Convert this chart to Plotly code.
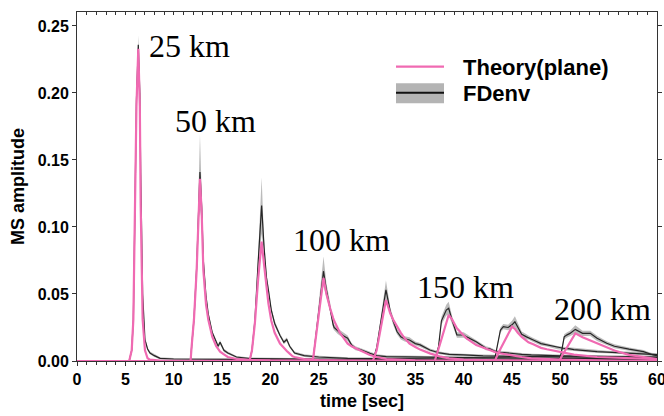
import plotly.graph_objects as go

# ---------------- data ----------------
t25  = [0, 5.4, 5.66, 5.83, 6.0, 6.15, 6.34, 6.5, 6.59, 6.79, 7.03, 7.3, 7.55, 8.0, 8.6, 10, 15, 20, 30, 45, 60]
th25 = [0, 0, 0.008, 0.031, 0.116, 0.19, 0.233, 0.19, 0.116, 0.031, 0.008, 0.002, 0.001, 0.0005, 0.0003, 0.0002, 0.0001, 0, 0, 0, 0]
fd25 = [0, 0, 0.008, 0.031, 0.116, 0.195, 0.236, 0.2, 0.14, 0.05, 0.016, 0.009, 0.006, 0.004, 0.002, 0.0015, 0.0012, 0.001, 0.001, 0.0008, 0.0006]
sd25 = [0, 0, 0.001, 0.002, 0.004, 0.006, 0.007, 0.005, 0.004, 0.002, 0.0015, 0.001, 0.001, 0.001, 0.0008, 0.0008, 0.0008, 0.0008, 0.0008, 0.0008, 0.0008]

t50  = [0, 11.75, 11.86, 12.1, 12.38, 12.55, 12.72, 12.9, 13.07, 13.35, 13.58, 14.0, 14.4, 14.6, 14.8, 15.2, 15.6, 16.5, 17.9, 20, 25, 30, 40, 50, 60]
th50 = [0, 0, 0.011, 0.031, 0.068, 0.112, 0.136, 0.11, 0.068, 0.042, 0.031, 0.018, 0.011, 0.009, 0.007, 0.005, 0.003, 0.0015, 0.0008, 0.0004, 0.0002, 0.0001, 0, 0, 0]
fd50 = [0, 0, 0.011, 0.031, 0.07, 0.115, 0.141, 0.115, 0.075, 0.048, 0.035, 0.021, 0.014, 0.011, 0.014, 0.008, 0.006, 0.003, 0.0018, 0.0015, 0.0012, 0.001, 0.0009, 0.0007, 0.0006]
sd50 = [0, 0, 0.001, 0.002, 0.005, 0.012, 0.028, 0.01, 0.005, 0.003, 0.002, 0.0015, 0.0015, 0.0015, 0.0015, 0.0012, 0.001, 0.0008, 0.0008, 0.0008, 0.0008, 0.0008, 0.0008, 0.0008, 0.0008]

t75  = [0, 17.85, 18.1, 18.4, 18.75, 19.1, 19.35, 19.6, 19.8, 20.1, 20.45, 21.0, 21.4, 21.7, 22.0, 22.3, 22.5, 23.5, 25, 28, 35, 45, 60]
th75 = [0, 0, 0.008, 0.028, 0.062, 0.089, 0.072, 0.053, 0.043, 0.03, 0.021, 0.013, 0.0095, 0.0075, 0.0055, 0.0035, 0.003, 0.0015, 0.0007, 0.0002, 0, 0, 0]
fd75 = [0, 0, 0.008, 0.03, 0.075, 0.116, 0.085, 0.062, 0.053, 0.038, 0.028, 0.019, 0.014, 0.016, 0.011, 0.008, 0.006, 0.004, 0.003, 0.002, 0.0015, 0.0012, 0.001]
sd75 = [0, 0, 0.001, 0.002, 0.006, 0.021, 0.006, 0.004, 0.003, 0.002, 0.002, 0.0015, 0.0015, 0.0015, 0.0012, 0.001, 0.001, 0.001, 0.001, 0.0008, 0.0008, 0.0008, 0.0008]

t100  = [0, 24.3, 24.45, 24.9, 25.2, 25.5, 25.8, 26.0, 26.2, 26.5, 26.6, 27.0, 27.2, 27.5, 28.0, 28.4, 28.8, 29.3, 30.3, 31.0, 32, 35, 40, 50, 60]
th100 = [0, 0, 0.003, 0.03, 0.048, 0.062, 0.05, 0.044, 0.039, 0.032, 0.03, 0.024, 0.021, 0.018, 0.013, 0.011, 0.0095, 0.008, 0.0045, 0.003, 0.0015, 0.0005, 0.0002, 0, 0]
fd100 = [0, 0, 0.003, 0.031, 0.05, 0.067, 0.053, 0.045, 0.04, 0.027, 0.025, 0.022, 0.021, 0.019, 0.017, 0.012, 0.0095, 0.0085, 0.0057, 0.004, 0.0032, 0.0028, 0.0025, 0.002, 0.0018]
sd100 = [0, 0, 0.001, 0.003, 0.005, 0.011, 0.005, 0.004, 0.003, 0.003, 0.002, 0.002, 0.002, 0.002, 0.002, 0.0015, 0.0015, 0.0012, 0.001, 0.001, 0.001, 0.001, 0.0008, 0.0008, 0.0008]

t125  = [0, 30.6, 31.0, 31.3, 31.5, 31.96, 32.3, 32.4, 32.7, 33.1, 33.5, 33.9, 34.4, 35.0, 35.5, 36.5, 37.5, 38.5, 40, 42, 45, 50, 60]
th125 = [0, 0, 0.008, 0.02, 0.029, 0.0455, 0.038, 0.0356, 0.031, 0.0256, 0.021, 0.0169, 0.013, 0.0105, 0.0085, 0.0057, 0.0035, 0.002, 0.001, 0.0006, 0.0003, 0.0001, 0]
fd125 = [0, 0, 0.01, 0.024, 0.033, 0.053, 0.041, 0.037, 0.03, 0.022, 0.018, 0.0165, 0.0157, 0.013, 0.012, 0.0082, 0.006, 0.005, 0.0045, 0.0038, 0.0034, 0.003, 0.0025]
sd125 = [0, 0, 0.001, 0.002, 0.003, 0.007, 0.004, 0.003, 0.003, 0.002, 0.002, 0.002, 0.002, 0.0015, 0.0015, 0.0012, 0.001, 0.001, 0.001, 0.001, 0.001, 0.001, 0.001]

t150  = [0, 37.0, 37.4, 37.7, 38.2, 38.45, 38.8, 39.3, 40.0, 40.3, 41.3, 42.3, 42.7, 43.3, 43.8, 45, 46, 47, 50, 55, 60]
th150 = [0, 0, 0.009, 0.016, 0.028, 0.0343, 0.031, 0.0244, 0.019, 0.0169, 0.0119, 0.009, 0.0082, 0.0065, 0.0057, 0.004, 0.003, 0.002, 0.001, 0.0003, 0]
fd150 = [0, 0.001, 0.0107, 0.03, 0.038, 0.0393, 0.0306, 0.0194, 0.0194, 0.018, 0.0144, 0.0095, 0.009, 0.007, 0.0065, 0.0055, 0.005, 0.0045, 0.0038, 0.0033, 0.003]
sd150 = [0, 0, 0.001, 0.003, 0.004, 0.005, 0.003, 0.002, 0.002, 0.002, 0.0015, 0.0015, 0.0012, 0.0012, 0.0012, 0.001, 0.001, 0.001, 0.001, 0.001, 0.001]

t175  = [0, 43.2, 43.8, 44.1, 44.6, 45.0, 45.3, 45.6, 46.0, 46.5, 46.7, 47.2, 48.0, 48.6, 49.7, 50.3, 51.0, 51.4, 53.8, 54.8, 58.2, 60]
th175 = [0, 0, 0.009, 0.013, 0.02, 0.0256, 0.024, 0.021, 0.018, 0.0152, 0.014, 0.0125, 0.0098, 0.0088, 0.007, 0.006, 0.0052, 0.0047, 0.003, 0.0027, 0.0017, 0.0014]
fd175 = [0, 0.001, 0.023, 0.0256, 0.025, 0.027, 0.0293, 0.025, 0.02, 0.018, 0.0175, 0.0157, 0.013, 0.012, 0.01, 0.0095, 0.009, 0.0085, 0.007, 0.0067, 0.0057, 0.0048]
sd175 = [0, 0, 0.002, 0.002, 0.002, 0.003, 0.004, 0.003, 0.002, 0.002, 0.0015, 0.0015, 0.0015, 0.0012, 0.0012, 0.0012, 0.0012, 0.0012, 0.001, 0.001, 0.001, 0.001]

t200  = [0, 49.9, 50.1, 50.4, 50.7, 51.0, 51.55, 52.3, 53.1, 53.8, 54.8, 55.6, 57.1, 58.6, 59.6, 60]
th200 = [0, 0, 0.003, 0.0065, 0.01, 0.0135, 0.0206, 0.0178, 0.0155, 0.013, 0.0105, 0.0078, 0.0046, 0.0028, 0.002, 0.0015]
fd200 = [0, 0.001, 0.006, 0.018, 0.0195, 0.0206, 0.0236, 0.0206, 0.0206, 0.0169, 0.0132, 0.011, 0.0088, 0.007, 0.0045, 0.004]
sd200 = [0, 0, 0.001, 0.002, 0.002, 0.002, 0.003, 0.002, 0.002, 0.002, 0.0015, 0.0015, 0.0012, 0.0012, 0.001, 0.001]

label_text = ["25 km", "50 km", "100 km", "150 km", "200 km"]
label_x = [11.64, 14.28, 27.31, 40.24, 54.41]
label_y = [0.235, 0.179, 0.0903, 0.0549, 0.0388]

x_ticks = [0, 5, 10, 15, 20, 25, 30, 35, 40, 45, 50, 55, 60]
y_ticks = [0.00, 0.05, 0.10, 0.15, 0.20, 0.25]

series = [
    (t25, th25, fd25, sd25), (t50, th50, fd50, sd50), (t75, th75, fd75, sd75),
    (t100, th100, fd100, sd100), (t125, th125, fd125, sd125), (t150, th150, fd150, sd150),
    (t175, th175, fd175, sd175), (t200, th200, fd200, sd200),
]

# ---------------- style ----------------
PINK = "#f06ab2"
BLACK = "#262626"
BAND = "rgba(150,150,150,0.65)"
W, H = 664, 416
L, R, T, B = 77, 7, 12, 55

fig = go.Figure()

for t, th, fd, sd in series:
    lo = [max(f - s, 0) for f, s in zip(fd, sd)]
    hi = [f + s for f, s in zip(fd, sd)]
    fig.add_trace(go.Scatter(x=t, y=lo, mode="lines", line=dict(width=0), showlegend=False, hoverinfo="skip"))
    fig.add_trace(go.Scatter(x=t, y=hi, mode="lines", line=dict(width=0), fill="tonexty",
                             fillcolor=BAND, showlegend=False, hoverinfo="skip"))
for t, th, fd, sd in series:
    fig.add_trace(go.Scatter(x=t, y=fd, mode="lines", line=dict(color=BLACK, width=1.2), showlegend=False))
for t, th, fd, sd in series:
    fig.add_trace(go.Scatter(x=t, y=th, mode="lines", line=dict(color=PINK, width=2.2), showlegend=False))

fig.add_trace(go.Scatter(x=[], y=[], xaxis="x2", showlegend=False))

pw = W - L - R
ph = H - T - B
def px2paper(px, py):
    return (px - L) / pw, (H - B - py) / ph

shapes = []
x0, y0 = px2paper(396, 66.7); x1, _ = px2paper(444, 66.7)
shapes.append(dict(type="line", xref="paper", yref="paper", x0=x0, x1=x1, y0=y0, y1=y0,
                   line=dict(color=PINK, width=2.2)))
rx0, ry0 = px2paper(396, 103.3); rx1, ry1 = px2paper(444, 83.3)
shapes.append(dict(type="rect", xref="paper", yref="paper", x0=rx0, x1=rx1, y0=ry0, y1=ry1,
                   fillcolor="#b4b4b4", line=dict(width=0)))
bx0, by = px2paper(396, 92.7)
shapes.append(dict(type="line", xref="paper", yref="paper", x0=bx0, x1=rx1, y0=by, y1=by,
                   line=dict(color="#111111", width=2)))

annotations = []
for txt, ypx in [("Theory(plane)", 67), ("FDenv", 93)]:
    ax, ay = px2paper(461, ypx)
    annotations.append(dict(text=txt, xref="paper", yref="paper", x=ax, y=ay, xanchor="left",
                            yanchor="middle", showarrow=False,
                            font=dict(family="Liberation Sans, Arial", size=22, color="black", weight="bold")))
for txt, lx, ly in zip(label_text, label_x, label_y):
    annotations.append(dict(text=txt, x=lx, y=ly, xref="x", yref="y", xanchor="center", yanchor="middle",
                            showarrow=False,
                            font=dict(family="Liberation Serif, Times New Roman", size=32, color="black")))

titlefont = dict(family="Liberation Sans, Arial", size=18, color="black", weight="bold")
tx, ty = px2paper(362, 401)
annotations.append(dict(text="time [sec]", xref="paper", yref="paper", x=tx, y=ty, xanchor="center",
                        yanchor="middle", showarrow=False, font=titlefont))
yx, yy = px2paper(18, 187)
annotations.append(dict(text="MS amplitude", xref="paper", yref="paper", x=yx, y=yy, xanchor="center",
                        yanchor="middle", showarrow=False, textangle=-90, font=titlefont))

tickfont = dict(family="Liberation Sans, Arial", size=16, color="black", weight="bold")

fig.update_layout(
    width=W, height=H,
    margin=dict(l=L, r=R, t=T, b=B, autoexpand=False),
    paper_bgcolor="white", plot_bgcolor="white",
    showlegend=False,
    shapes=shapes, annotations=annotations,
    xaxis=dict(range=[0, 60], tickvals=x_ticks, ticktext=[str(v) for v in x_ticks],
               ticks="outside", ticklen=4, tickwidth=1, tickcolor="#333", ticklabeloverflow="allow",
               minor=dict(dtick=1, ticks="outside", ticklen=2.5, tickcolor="#333", showgrid=False),
               showline=True, linecolor="#333", linewidth=1, mirror=False, automargin=False,
               showgrid=False, zeroline=False, tickfont=tickfont),
    xaxis2=dict(overlaying="x", side="top", matches="x", range=[0, 60], tickvals=x_ticks,
                showticklabels=False, ticks="inside", ticklen=3, tickcolor="#333", automargin=False,
                minor=dict(dtick=1, ticks="inside", ticklen=2.5, tickcolor="#333", showgrid=False),
                showline=True, linecolor="#333", linewidth=1, showgrid=False, zeroline=False),
    yaxis=dict(range=[0, 0.2604], tickvals=y_ticks, ticktext=[f"{v:.2f}" for v in y_ticks],
               ticks="outside", ticklen=4, tickwidth=1, tickcolor="#333", automargin=False,
               showline=True, linecolor="#333", linewidth=1, mirror="ticks",
               showgrid=False, zeroline=False, tickfont=tickfont),
)

fig.write_html("out.html", config={"displayModeBar": False},
               post_script="document.body.style.margin='0';")
